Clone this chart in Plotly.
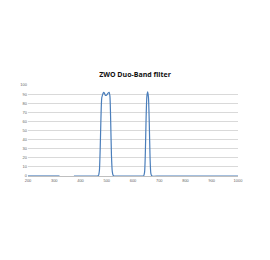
import plotly.graph_objects as go

wavelength = [200, 250, 300, 320, None, 375, 400, 450, 465, 469, 472, 475, 478, 481, 485, 488, 491, 495, 500, 505, 509, 512, 515, 518, 521, 524, 528, 560, 600, 630, 640, 644, 647, 650, 653, 656, 659, 662, 665, 668, 672, 700, 800, 900, 1000]
transmission = [0, 0, 0, 0, None, 0, 0, 0, 0, 1, 6, 30, 65, 86, 90, 92, 91, 88.5, 89, 91, 92, 88, 60, 22, 5, 1, 0, 0, 0, 0, 0, 4, 25, 65, 88, 92.5, 86, 58, 20, 3, 0, 0, 0, 0, 0]
x_ticks = [200, 300, 400, 500, 600, 700, 800, 900, 1000]
y_ticks = [0, 10, 20, 30, 40, 50, 60, 70, 80, 90, 100]
title_text = "ZWO Duo-Band filter"

fig = go.Figure()
fig.add_trace(go.Scatter(x=wavelength, y=transmission, mode="lines",
                         line=dict(color="#4a7ebb", width=1.2, shape="spline", smoothing=0.6),
                         connectgaps=False, showlegend=False, hoverinfo="skip"))

fig.update_layout(
    width=270, height=260,
    margin=dict(l=28, r=32, t=85, b=84),
    paper_bgcolor="white", plot_bgcolor="white",
    title=dict(text="<b>" + title_text + "</b>", x=0.5, xanchor="center", y=1 - 75/260, yanchor="middle",
               font=dict(family="Open Sans, Liberation Sans, sans-serif", size=7, color="#111111")),
    xaxis=dict(range=[200, 1000], tickvals=x_ticks, ticktext=[str(v) for v in x_ticks],
               showgrid=False, zeroline=False, showline=True, linecolor="#bfbfbf", linewidth=1,
               ticks="", tickfont=dict(size=4, color="#666666", family="Liberation Sans"), fixedrange=True),
    yaxis=dict(range=[0, 100], tickvals=y_ticks, ticktext=[str(v) for v in y_ticks],
               showgrid=True, gridcolor="#d9d9d9", gridwidth=1, zeroline=False, showline=False,
               ticks="", tickfont=dict(size=4, color="#666666", family="Liberation Sans"), fixedrange=True),
)

fig.write_html("out.html")
